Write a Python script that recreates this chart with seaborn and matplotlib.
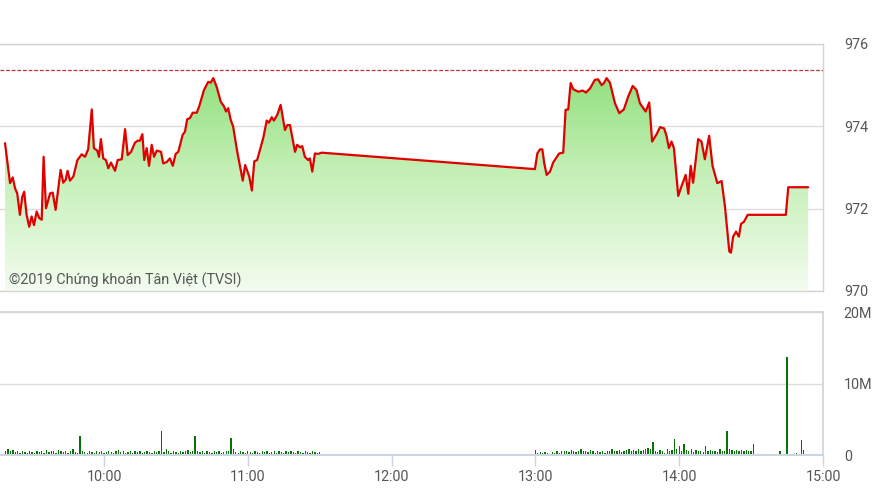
import numpy as np
import matplotlib
matplotlib.use("Agg")
import matplotlib.pyplot as plt
from matplotlib.colors import LinearSegmentedColormap
import seaborn as sns

# --- price line: minutes after 09:00 and index value ---
price_minutes = [
    18.7, 20.8, 21.9, 22.9, 23.8, 24.9, 25.9, 26.7, 27.7, 28.8, 29.8, 30.8, 31.9, 33.0, 34.0,
    34.8, 35.8, 37.5, 38.6, 39.8, 41.9, 43.0, 44.0, 44.8, 45.8, 47.2, 48.9, 50.7, 52.1, 53.4,
    54.9, 55.8, 57.2, 57.9, 58.7, 59.7, 60.8, 61.8, 62.9, 64.6, 65.7, 67.4, 68.8, 69.9, 71.3,
    72.9, 74.0, 75.0, 76.0, 76.8, 77.8, 78.8, 79.9, 80.9, 82.0, 83.8, 84.7, 86.1, 87.5, 88.7,
    89.9, 91.0, 92.8, 93.8, 94.7, 95.9, 97.0, 98.7, 99.7, 101.7, 103.5, 104.5, 105.6, 107.0,
    108.7, 110.1, 110.9, 111.8, 112.9, 113.9, 115.6, 117.9, 118.9, 120.6, 121.7, 122.7, 123.9,
    126.5, 127.9, 128.8, 130.0, 130.9, 132.3, 133.7, 135.5, 136.5, 137.6, 139.7, 140.6, 141.8,
    142.7, 143.8, 145.2, 145.9, 146.9, 148.0, 149.4, 150.8,
    239.8, 240.8, 241.9, 242.9, 243.7, 244.7, 246.1, 247.4, 248.9, 249.9, 251.6, 252.6, 253.7,
    254.7, 255.8, 257.9, 259.7, 261.1, 262.8, 264.8, 266.2, 267.6, 268.6, 269.7, 271.1, 273.2,
    275.0, 276.9, 278.7, 280.6, 282.2, 283.6, 286.0, 287.5, 288.7, 290.6, 292.0, 293.7, 294.7,
    295.7, 296.8, 297.8, 299.6, 301.0, 302.7, 303.8, 304.8, 305.8, 307.9, 309.3, 310.7, 312.5,
    313.9, 315.9, 317.7, 319.1, 320.9, 321.6, 322.5, 323.7, 324.9, 325.8, 327.0, 328.6, 344.5,
    345.5, 353.8,
]
price_values = [
    973.59, 972.62, 972.76, 972.49, 972.37, 971.85, 972.29, 972.41, 971.85, 971.56, 971.81,
    971.60, 971.93, 971.77, 971.73, 973.26, 972.01, 972.37, 972.39, 971.97, 972.94, 972.63,
    972.70, 972.92, 972.68, 972.78, 973.18, 973.32, 973.26, 973.44, 974.41, 973.47, 973.41,
    973.26, 973.69, 973.22, 973.18, 972.98, 973.12, 972.92, 973.18, 973.20, 973.93, 973.30,
    973.38, 973.60, 973.65, 973.65, 973.81, 973.18, 973.47, 973.04, 973.55, 973.26, 973.41,
    973.38, 973.10, 973.13, 973.22, 973.04, 973.33, 973.38, 973.79, 973.87, 974.17, 974.20,
    974.33, 974.33, 974.48, 974.88, 975.08, 975.06, 975.17, 974.96, 974.60, 974.48, 974.36,
    974.44, 974.15, 973.99, 973.38, 972.68, 973.06, 972.78, 972.44, 973.15, 973.18, 973.73,
    974.14, 974.09, 974.22, 974.14, 974.28, 974.52, 973.91, 974.03, 974.03, 973.38, 973.55,
    973.49, 973.52, 973.26, 973.18, 973.22, 972.90, 973.34, 973.33, 973.36,
    972.96, 973.34, 973.44, 973.44, 973.10, 972.82, 972.90, 973.12, 973.25, 973.34, 973.36,
    974.40, 974.41, 975.05, 974.90, 974.84, 974.87, 974.82, 974.92, 975.13, 975.14, 975.00,
    975.05, 975.17, 975.06, 974.56, 974.32, 974.41, 974.72, 974.98, 974.88, 974.56, 974.36,
    974.58, 973.63, 973.81, 973.98, 973.95, 973.77, 973.47, 973.63, 973.47, 972.31, 972.55,
    972.82, 972.36, 973.04, 972.63, 973.69, 973.63, 973.20, 973.77, 973.04, 972.62, 972.67,
    972.05, 970.96, 970.93, 971.32, 971.44, 971.32, 971.63, 971.68, 971.85, 971.85, 972.52,
    972.52,
]
ref_price = 975.37

# --- volume (millions), one bar per minute ---
am_start = 19
am_volume = [
    0.6, 0.8, 0.5, 0.7, 0.4, 0.6, 0.3, 0.5, 0.4, 0.3,
    0.5, 0.4, 0.3, 0.6, 0.4, 0.5, 0.3, 0.7, 0.4, 0.6,
    0.5, 0.3, 0.7, 0.5, 0.4, 0.6, 0.3, 0.5, 0.8, 0.4,
    0.3, 2.7, 0.5, 0.4, 0.3, 0.5, 0.4, 0.3, 0.6, 0.4,
    0.5, 0.3, 0.4, 0.6, 0.4, 0.3, 0.5, 0.7, 0.4, 0.5,
    0.3, 0.4, 0.5, 0.3, 0.6, 0.4, 0.5, 0.3, 0.4, 0.6,
    0.4, 0.3, 0.5, 0.4, 0.6, 3.3, 0.4, 0.8, 0.5, 0.3,
    0.5, 0.4, 0.3, 0.6, 0.4, 0.5, 0.7, 0.4, 0.6, 2.7,
    0.5, 0.4, 0.6, 0.3, 0.5, 0.4, 0.3, 0.6, 0.4, 0.5,
    0.3, 0.4, 0.6, 0.5, 2.4, 0.9, 0.4, 0.3, 0.5, 0.4,
    0.3, 0.5, 0.4, 0.3, 0.6, 0.4, 0.3, 0.5, 0.4, 0.6,
    0.3, 0.4, 0.5, 0.3, 0.6, 0.4, 0.3, 0.5, 0.4, 0.6,
    0.4, 0.3, 0.5, 0.4, 0.3, 0.5, 0.4, 0.3, 0.6, 0.4, 0.3, 0.4,
]
pm_start = 240
pm_volume = [
    0.7, 0.3, 0.4, 0.3, 0.4, 0.3, 0.2, 0.4, 0.3, 0.5,
    0.3, 0.5, 0.5, 0.6, 0.4, 0.7, 0.5, 0.4, 0.6, 0.8,
    0.5, 0.6, 0.4, 0.7, 0.5, 0.3, 0.6, 0.4, 0.5, 0.3,
    0.6, 0.5, 0.8, 0.6, 0.5, 0.7, 0.4, 0.6, 0.7, 0.8,
    0.6, 0.7, 0.5, 0.8, 0.6, 0.7, 0.9, 1.0, 0.8, 1.8,
    0.6, 0.4, 0.7, 0.5, 0.3, 0.8, 0.6, 0.7, 2.3, 0.9,
    1.2, 0.6, 1.6, 0.7, 0.5, 0.8, 0.4, 0.7, 0.6, 0.5,
    0.4, 1.2, 0.6, 0.7, 0.5, 0.6, 0.4, 0.8, 0.6, 0.5,
    3.3, 0.8, 0.7, 0.6, 0.7, 0.6, 0.7, 0.6, 0.7, 0.6, 0.5, 1.5,
]
late_minutes = [334, 342, 345, 349, 351, 352]
late_volume = [0.2, 0.6, 13.7, 0.3, 2.1, 0.7]

price_ticks = [970, 972, 974, 976]
vol_ticks = [0, 10, 20]
vol_tick_labels = ["0", "10M", "20M"]
time_ticks = [10, 11, 12, 13, 14, 15]
time_labels = ["10:00", "11:00", "12:00", "13:00", "14:00", "15:00"]
watermark = "©2019 Chứng khoán Tân Việt (TVSI)"

sns.set_theme(style="white")
plt.rcParams["font.family"] = ["Roboto", "DejaVu Sans"]

TXT = "#555555"
FRAME = "#d4d4d4"
GRID = "#dcdcdc"
x0, x1 = 10 - 104 / 143.8, 15.0

fig = plt.figure(figsize=(8.86, 4.98), dpi=100)
ax1 = fig.add_axes([0.0, 0.4157, 0.9289, 0.4960])
ax2 = fig.add_axes([0.0, 0.0863, 0.9289, 0.2871])

# price panel
hours = 9 + np.array(price_minutes) / 60
prices = np.array(price_values)
poly = ax1.fill_between(hours, prices, 970, facecolor="none", edgecolor="none")
cmap = LinearSegmentedColormap.from_list("g", ["#80db6c", "#c2efb3", "#f3fcef"])
grad = np.linspace(0, 1, 256).reshape(-1, 1)
img = ax1.imshow(grad, cmap=cmap, aspect="auto", extent=[x0, x1, 970, 976],
                 origin="upper", zorder=1)
img.set_clip_path(poly.get_paths()[0], transform=ax1.transData)
sns.lineplot(x=hours, y=prices, color="#e00000", linewidth=1.6, estimator=None,
             sort=False, ax=ax1, zorder=3)
ax1.axhline(ref_price, color="#c0303a", linestyle=(0, (3, 1.5)), linewidth=0.9, zorder=2)

ax1.set_xlim(x0, x1)
ax1.set_ylim(970, 976)
ax1.set_yticks(price_ticks)
ax1.set_xticks([])
ax1.yaxis.tick_right()
ax1.tick_params(axis="y", length=0, pad=15, labelsize=10.3, labelcolor=TXT)
for t in ax1.get_yticklabels():
    t.set_horizontalalignment("left")
ax1.grid(axis="y", color=GRID, linewidth=1)
ax1.set_axisbelow(True)
ax1.spines["left"].set_visible(False)
for s in ["top", "right", "bottom"]:
    ax1.spines[s].set_color(FRAME)
    ax1.spines[s].set_linewidth(1)
ax1.text(0.011, 0.045, watermark, transform=ax1.transAxes, fontsize=10.4,
         color=TXT, ha="left", va="center", zorder=4)

# volume panel
vol_minutes = (list(range(am_start, am_start + len(am_volume)))
               + list(range(pm_start, pm_start + len(pm_volume)))
               + late_minutes)
vol_values = am_volume + pm_volume + late_volume
vol_hours = 9 + np.array(vol_minutes) / 60
sns.barplot(x=vol_hours, y=vol_values, native_scale=True, width=0.55,
            color="#0a700a", saturation=1, errorbar=None, linewidth=0, ax=ax2)

ax2.set_xlim(x0, x1)
ax2.set_ylim(0, 20)
ax2.set_yticks(vol_ticks)
ax2.set_yticklabels(vol_tick_labels)
ax2.set_xticks(time_ticks)
ax2.set_xticklabels(time_labels)
ax2.yaxis.tick_right()
ax2.tick_params(axis="y", length=0, pad=15, labelsize=10.3, labelcolor=TXT)
for t in ax2.get_yticklabels():
    t.set_horizontalalignment("left")
ax2.tick_params(axis="x", bottom=True, length=8, width=1, color="#ccd6e0", pad=3,
                labelsize=10.3, labelcolor=TXT)
ax2.grid(axis="y", color=GRID, linewidth=1)
ax2.set_axisbelow(True)
ax2.spines["left"].set_visible(False)
ax2.spines["top"].set_color(FRAME)
ax2.spines["right"].set_color(FRAME)
ax2.spines["bottom"].set_color("#ccd6e0")
ax2.spines["bottom"].set_linewidth(1.5)
ax2.set_xlabel("")
ax2.set_ylabel("")

fig.savefig("out.png", dpi=100)
